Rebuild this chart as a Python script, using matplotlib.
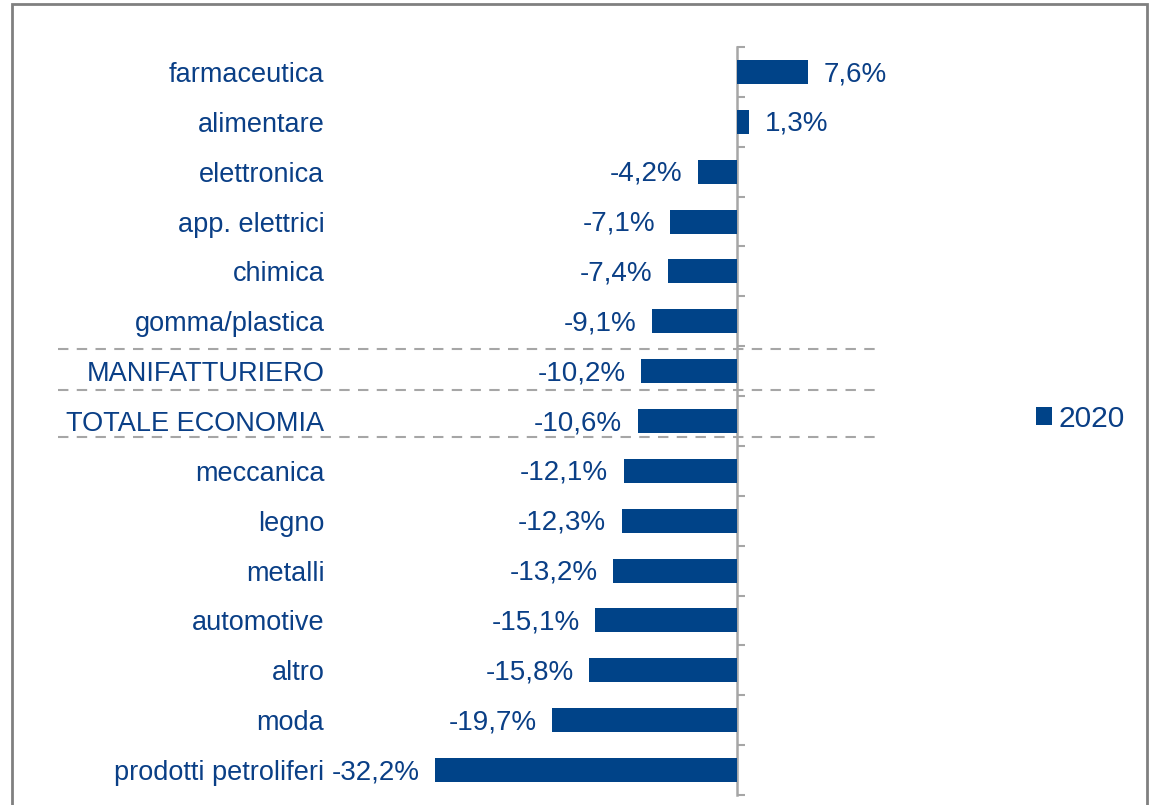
import numpy as np
import matplotlib.pyplot as plt
from matplotlib.patches import Rectangle

plt.rcParams['font.family'] = ['Liberation Sans', 'DejaVu Sans']

# Chart data
categories = ["farmaceutica", "alimentare", "elettronica", "app. elettrici", "chimica",
              "gomma/plastica", "MANIFATTURIERO", "TOTALE ECONOMIA", "meccanica", "legno",
              "metalli", "automotive", "altro", "moda", "prodotti petroliferi"]
values_2020 = [7.6, 1.3, -4.2, -7.1, -7.4, -9.1, -10.2, -10.6, -12.1, -12.3,
               -13.2, -15.1, -15.8, -19.7, -32.2]
series_name = "2020"

navy = '#004388'
text_col = '#0A3F86'
W, H = 1158, 805

fig = plt.figure(figsize=(W / 100, H / 100), dpi=100)
ax = fig.add_axes([330 / W, 1 - 795 / H, (878 - 330) / W, (795 - 47) / H])

xmin, xmax = -43.39, 15.03
y = np.arange(len(categories))
bars = ax.barh(y, values_2020, height=0.48, color=navy, label=series_name)
ax.set_xlim(xmin, xmax)
ax.set_ylim(len(categories) - 0.5, -0.5)

# category labels on the left edge
ax.set_yticks(y)
ax.set_yticklabels(categories, fontsize=19.5, color=text_col)
ax.tick_params(axis='y', length=0, pad=4)
ax.set_xticks([])
for s in ax.spines.values():
    s.set_visible(False)

# vertical axis at zero with tick marks between categories
loc = (0 - xmin) / (xmax - xmin)
sec = ax.secondary_yaxis(loc)
sec.set_yticks(np.arange(-0.5, len(categories), 1))
sec.set_yticklabels([])
sec.tick_params(axis='y', length=6, width=1.5, color='#A6A6A6', direction='out')
for s in sec.spines.values():
    s.set_color('#A6A6A6')
    s.set_linewidth(1.8)

# value labels
for v, yi in zip(values_2020, y):
    lbl = f"{v:.1f}%".replace('.', ',')
    if v >= 0:
        ax.annotate(lbl, (v, yi), xytext=(11, -1.5), textcoords='offset points',
                    ha='left', va='center', fontsize=20, color=text_col)
    else:
        ax.annotate(lbl, (v, yi), xytext=(-11, -1.5), textcoords='offset points',
                    ha='right', va='center', fontsize=20, color=text_col)

# dashed separators around the aggregates
for yd in [5.56, 6.38, 7.33]:
    x0 = xmin - (330 - 58) / 9.38
    ax.plot([x0, xmax], [yd, yd], color='#A6A6A6', lw=1.5, ls=(0, (5, 4)),
            clip_on=False)

# legend
fig.legend(handles=[bars], labels=[series_name], loc='center left',
           bbox_to_anchor=(1030 / W, 1 - 419 / H), frameon=False, fontsize=21.5,
           handlelength=0.55, handleheight=0.55, handletextpad=0.2,
           labelcolor=text_col, borderaxespad=0, borderpad=0.2)

# outer border
fig.patches.append(Rectangle((12 / W, -0.02), (1147 - 12) / W, (H - 4) / H + 0.02,
                             transform=fig.transFigure, fill=False,
                             edgecolor='#808080', lw=2, zorder=10))

fig.savefig('out.png', dpi=100)
